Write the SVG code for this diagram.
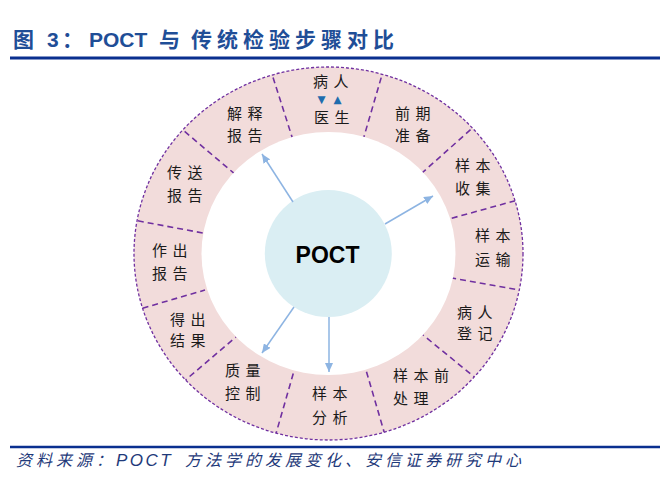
<svg xmlns="http://www.w3.org/2000/svg" width="669" height="477" viewBox="0 0 669 477">
<style>
.title{font-family:"Liberation Sans","Noto Sans CJK SC",sans-serif;font-weight:bold;font-size:21px;fill:#1F4E97}
.src{font-family:"Liberation Sans","Noto Sans CJK SC",sans-serif;font-style:italic;font-size:16px;fill:#1F3A7A}
.lbl{font-family:"Noto Sans CJK SC",sans-serif;font-size:15px;letter-spacing:5.5px;fill:#1a1a1a}
.div{stroke:#7030A0;stroke-width:1.6;stroke-dasharray:6 4;fill:none}
.conn{stroke:#8DB4E2;stroke-width:1.5;fill:none;marker-end:url(#ah)}
.tri{font-family:"DejaVu Sans",sans-serif;font-size:10.5px;fill:#1F6DAE}
</style>
<defs>
<marker id="ah" markerWidth="9" markerHeight="8" refX="9" refY="4" orient="auto" markerUnits="userSpaceOnUse"><path d="M0,0 L9,4 L0,8 Z" fill="#8DB4E2"/></marker>
<clipPath id="ring"><ellipse cx="328.5" cy="253.5" rx="194.5" ry="186.5"/></clipPath>
</defs>
<rect width="669" height="477" fill="#fff"/>
<text class="title" y="47"><tspan x="13">图</tspan><tspan x="47">3</tspan><tspan x="62">：</tspan><tspan x="89">POCT</tspan><tspan x="159">与</tspan><tspan x="191" letter-spacing="5">传统检验步骤对比</tspan></text>
<line x1="10" y1="58" x2="660" y2="58" stroke="#0A2F8F" stroke-width="3"/>
<g id="ring-bg">
<ellipse cx="328.5" cy="253.5" rx="194.5" ry="186.5" fill="#F2DCDB"/>
<g clip-path="url(#ring)">
<line class="div" x1="270" y1="68" x2="293" y2="140"/>
<line class="div" x1="384" y1="68" x2="363" y2="140"/>
<line class="div" x1="478" y1="123" x2="422" y2="173"/>
<line class="div" x1="525" y1="198" x2="449" y2="219"/>
<line class="div" x1="525" y1="291" x2="452" y2="278"/>
<line class="div" x1="478" y1="380" x2="423" y2="335"/>
<line class="div" x1="385" y1="435" x2="366" y2="370"/>
<line class="div" x1="275" y1="437" x2="294" y2="371"/>
<line class="div" x1="182" y1="383" x2="236" y2="337"/>
<line class="div" x1="133" y1="311" x2="205" y2="290"/>
<line class="div" x1="128" y1="219" x2="203" y2="233"/>
<line class="div" x1="177" y1="125" x2="236" y2="175"/>
</g>
<ellipse cx="328.5" cy="253.5" rx="127" ry="121.5" fill="#fff"/>
<ellipse cx="328.5" cy="253.5" rx="194.5" ry="186.5" fill="none" stroke="#7030A0" stroke-width="1.3" stroke-dasharray="3 2"/>
</g>
<g id="seg-patient-doctor">
<text class="lbl" x="313" y="86.5">病人</text>
<text class="tri" x="317.5" y="102.5">▼</text>
<text class="tri" x="333.5" y="102.5">▲</text>
<text class="lbl" x="314" y="122.5">医生</text>
</g>
<g id="seg-pre-prep"><text class="lbl" x="395" y="118.5">前期</text><text class="lbl" x="395" y="140.5">准备</text></g>
<g id="seg-sample-collect"><text class="lbl" x="455" y="170.5">样本</text><text class="lbl" x="455" y="194">收集</text></g>
<g id="seg-sample-transport"><text class="lbl" x="475" y="241">样本</text><text class="lbl" x="475" y="264.5">运输</text></g>
<g id="seg-patient-register"><text class="lbl" x="457" y="317.5">病人</text><text class="lbl" x="457" y="339">登记</text></g>
<g id="seg-sample-pretreat"><text class="lbl" x="393" y="380.5">样本前</text><text class="lbl" x="393" y="403.5">处理</text></g>
<g id="seg-sample-analysis"><text class="lbl" x="312" y="399">样本</text><text class="lbl" x="312" y="422.5">分析</text></g>
<g id="seg-quality-control"><text class="lbl" x="225" y="376">质量</text><text class="lbl" x="225" y="399">控制</text></g>
<g id="seg-get-result"><text class="lbl" x="170" y="325">得出</text><text class="lbl" x="170" y="346">结果</text></g>
<g id="seg-make-report"><text class="lbl" x="152" y="256">作出</text><text class="lbl" x="152" y="278.5">报告</text></g>
<g id="seg-send-report"><text class="lbl" x="167" y="178">传送</text><text class="lbl" x="167" y="200.5">报告</text></g>
<g id="seg-explain-report"><text class="lbl" x="227" y="118.5">解释</text><text class="lbl" x="227" y="140.5">报告</text></g>
<g id="poct">
<circle cx="328.3" cy="253.5" r="63.5" fill="#DAEEF3"/>
<text x="327.5" y="263.3" text-anchor="middle" font-family="Liberation Sans, sans-serif" font-weight="bold" font-size="23" fill="#000">POCT</text>
</g>
<g id="connectors">
<line class="conn" x1="293" y1="202" x2="262" y2="154"/>
<line class="conn" x1="385" y1="224" x2="433" y2="196"/>
<line class="conn" x1="294" y1="307" x2="262" y2="353"/>
<line class="conn" x1="329" y1="317" x2="329" y2="372"/>
</g>
<line x1="10" y1="447" x2="660" y2="447" stroke="#0A2F8F" stroke-width="2.5"/>
<text class="src" y="466"><tspan x="16" letter-spacing="4">资料来源：</tspan><tspan x="116" font-size="17" letter-spacing="2.5">POCT</tspan><tspan x="185" letter-spacing="4">方法学的发展变化、安信证券研究中心</tspan></text>
</svg>
